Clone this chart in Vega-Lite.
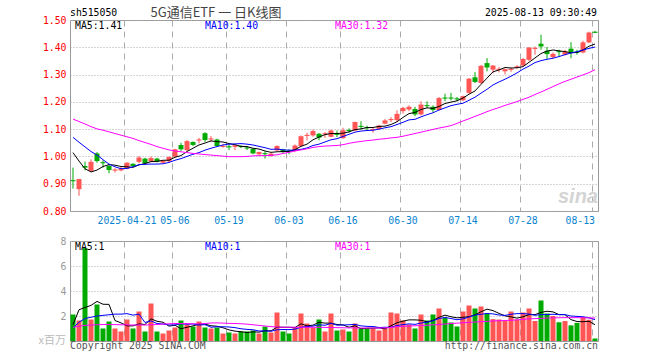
{
"$schema": "https://vega.github.io/schema/vega-lite/v6.json",
"background": "white",
"padding": {"left": 38, "top": 6, "right": 5, "bottom": 5},
"bounds": "flush",
"spacing": 30,
"config": {
  "view": {"stroke": "#999", "strokeWidth": 1},
  "axis": {"domain": false, "ticks": false, "title": null, "labelFont": "DejaVu Sans Mono", "labelFontSize": 9.8, "gridColor": "#aaa", "gridWidth": 1, "labelOverlap": false},
  "text": {"font": "DejaVu Sans Mono", "fontSize": 9.8}
},
"datasets": {"k": [
{"d":"2025-04-08","o":0.913,"h":0.959,"l":0.882,"c":0.909,"v":2.12,"m5":1.014,"m10":1.070,"m30":1.137,"v5":1.3,"v10":1.05,"v30":1.10},
{"d":"2025-04-09","o":0.880,"h":0.918,"l":0.856,"c":0.917,"v":1.64,"m5":0.983,"m10":1.052,"m30":1.128,"v5":2.5,"v10":1.5,"v30":1.18},
{"d":"2025-04-10","o":0.965,"h":0.981,"l":0.949,"c":0.959,"v":7.43,"m5":0.955,"m10":1.035,"m30":1.119,"v5":2.68,"v10":1.8,"v30":1.25},
{"d":"2025-04-11","o":0.947,"h":0.989,"l":0.944,"c":0.980,"v":1.72,"m5":0.943,"m10":1.018,"m30":1.109,"v5":2.85,"v10":1.9,"v30":1.28},
{"d":"2025-04-14","o":1.011,"h":1.016,"l":0.977,"c":0.983,"v":2.92,"m5":0.950,"m10":1.005,"m30":1.101,"v5":3.17,"v10":2.0,"v30":1.30},
{"d":"2025-04-15","o":0.979,"h":0.986,"l":0.959,"c":0.975,"v":1.0,"m5":0.963,"m10":0.988,"m30":1.096,"v5":2.94,"v10":2.05,"v30":1.32},
{"d":"2025-04-16","o":0.965,"h":0.971,"l":0.938,"c":0.950,"v":1.56,"m5":0.970,"m10":0.972,"m30":1.090,"v5":2.93,"v10":2.1,"v30":1.32},
{"d":"2025-04-17","o":0.948,"h":0.957,"l":0.941,"c":0.952,"v":1.0,"m5":0.968,"m10":0.962,"m30":1.084,"v5":1.64,"v10":2.15,"v30":1.31},
{"d":"2025-04-18","o":0.949,"h":0.962,"l":0.945,"c":0.956,"v":0.76,"m5":0.963,"m10":0.955,"m30":1.078,"v5":1.45,"v10":2.15,"v30":1.30},
{"d":"2025-04-21","o":0.955,"h":0.978,"l":0.953,"c":0.977,"v":1.72,"m5":0.962,"m10":0.956,"m30":1.072,"v5":1.21,"v10":2.19,"v30":1.29},
{"d":"2025-04-22","o":0.973,"h":0.975,"l":0.962,"c":0.965,"v":1.0,"m5":0.960,"m10":0.962,"m30":1.066,"v5":1.21,"v10":2.07,"v30":1.28},
{"d":"2025-04-23","o":0.980,"h":1.001,"l":0.975,"c":0.996,"v":2.36,"m5":0.969,"m10":0.970,"m30":1.058,"v5":1.37,"v10":2.15,"v30":1.28},
{"d":"2025-04-24","o":0.992,"h":0.995,"l":0.972,"c":0.975,"v":0.76,"m5":0.974,"m10":0.971,"m30":1.051,"v5":1.32,"v10":1.48,"v30":1.28},
{"d":"2025-04-25","o":0.982,"h":1.000,"l":0.980,"c":0.994,"v":3.0,"m5":0.981,"m10":0.972,"m30":1.044,"v5":1.77,"v10":1.61,"v30":1.30},
{"d":"2025-04-28","o":0.992,"h":0.995,"l":0.978,"c":0.980,"v":0.76,"m5":0.982,"m10":0.972,"m30":1.036,"v5":1.58,"v10":1.40,"v30":1.32},
{"d":"2025-04-29","o":0.977,"h":0.987,"l":0.975,"c":0.985,"v":0.6,"m5":0.986,"m10":0.973,"m30":1.030,"v5":1.50,"v10":1.36,"v30":1.35},
{"d":"2025-04-30","o":0.982,"h":1.000,"l":0.978,"c":0.998,"v":0.84,"m5":0.986,"m10":0.978,"m30":1.024,"v5":1.19,"v10":1.28,"v30":1.38},
{"d":"2025-05-06","o":0.999,"h":1.028,"l":0.997,"c":1.026,"v":1.08,"m5":0.997,"m10":0.986,"m30":1.020,"v5":1.26,"v10":1.29,"v30":1.40},
{"d":"2025-05-07","o":1.042,"h":1.050,"l":1.020,"c":1.026,"v":1.64,"m5":1.003,"m10":0.992,"m30":1.017,"v5":0.98,"v10":1.38,"v30":1.40},
{"d":"2025-05-08","o":1.023,"h":1.060,"l":1.020,"c":1.056,"v":1.32,"m5":1.018,"m10":1.000,"m30":1.014,"v5":1.10,"v10":1.34,"v30":1.39},
{"d":"2025-05-09","o":1.053,"h":1.055,"l":1.038,"c":1.042,"v":1.16,"m5":1.030,"m10":1.008,"m30":1.011,"v5":1.21,"v10":1.36,"v30":1.38},
{"d":"2025-05-12","o":1.058,"h":1.068,"l":1.048,"c":1.062,"v":1.56,"m5":1.042,"m10":1.014,"m30":1.009,"v5":1.35,"v10":1.27,"v30":1.37},
{"d":"2025-05-13","o":1.085,"h":1.089,"l":1.053,"c":1.060,"v":1.08,"m5":1.049,"m10":1.023,"m30":1.007,"v5":1.35,"v10":1.31,"v30":1.40},
{"d":"2025-05-14","o":1.062,"h":1.075,"l":1.053,"c":1.066,"v":1.0,"m5":1.057,"m10":1.030,"m30":1.005,"v5":1.22,"v10":1.10,"v30":1.44},
{"d":"2025-05-15","o":1.062,"h":1.065,"l":1.035,"c":1.038,"v":1.08,"m5":1.054,"m10":1.036,"m30":1.003,"v5":1.18,"v10":1.14,"v30":1.45},
{"d":"2025-05-16","o":1.035,"h":1.046,"l":1.032,"c":1.039,"v":0.6,"m5":1.053,"m10":1.042,"m30":1.001,"v5":1.06,"v10":1.14,"v30":1.43},
{"d":"2025-05-19","o":1.037,"h":1.044,"l":1.023,"c":1.033,"v":0.68,"m5":1.047,"m10":1.045,"m30":0.999,"v5":0.89,"v10":1.12,"v30":1.41},
{"d":"2025-05-20","o":1.035,"h":1.043,"l":1.023,"c":1.041,"v":0.6,"m5":1.043,"m10":1.046,"m30":0.999,"v5":0.79,"v10":1.07,"v30":1.40},
{"d":"2025-05-21","o":1.038,"h":1.041,"l":1.030,"c":1.034,"v":0.76,"m5":1.037,"m10":1.047,"m30":0.999,"v5":0.74,"v10":0.98,"v30":1.38},
{"d":"2025-05-22","o":1.033,"h":1.038,"l":1.023,"c":1.029,"v":0.76,"m5":1.036,"m10":1.045,"m30":1.000,"v5":0.68,"v10":0.93,"v30":1.35},
{"d":"2025-05-23","o":1.028,"h":1.030,"l":1.008,"c":1.011,"v":0.84,"m5":1.030,"m10":1.042,"m30":1.002,"v5":0.73,"v10":0.90,"v30":1.30},
{"d":"2025-05-26","o":1.008,"h":1.018,"l":1.005,"c":1.016,"v":0.6,"m5":1.027,"m10":1.037,"m30":1.003,"v5":0.71,"v10":0.80,"v30":1.25},
{"d":"2025-05-27","o":1.012,"h":1.019,"l":0.992,"c":1.008,"v":1.16,"m5":1.020,"m10":1.032,"m30":1.003,"v5":0.82,"v10":0.81,"v30":1.20},
{"d":"2025-05-28","o":1.002,"h":1.013,"l":0.999,"c":1.010,"v":0.68,"m5":1.015,"m10":1.026,"m30":1.004,"v5":0.81,"v10":0.78,"v30":1.15},
{"d":"2025-05-29","o":1.022,"h":1.041,"l":1.020,"c":1.038,"v":2.28,"m5":1.017,"m10":1.027,"m30":1.006,"v5":1.11,"v10":0.90,"v30":1.12},
{"d":"2025-05-30","o":1.026,"h":1.028,"l":1.012,"c":1.016,"v":0.76,"m5":1.018,"m10":1.024,"m30":1.011,"v5":1.10,"v10":0.92,"v30":1.10},
{"d":"2025-06-03","o":1.022,"h":1.026,"l":1.008,"c":1.018,"v":0.6,"m5":1.018,"m10":1.023,"m30":1.015,"v5":1.10,"v10":0.91,"v30":1.10},
{"d":"2025-06-04","o":1.020,"h":1.044,"l":1.018,"c":1.040,"v":1.08,"m5":1.025,"m10":1.023,"m30":1.020,"v5":1.08,"v10":0.95,"v30":1.10},
{"d":"2025-06-05","o":1.038,"h":1.077,"l":1.035,"c":1.074,"v":2.2,"m5":1.037,"m10":1.026,"m30":1.024,"v5":1.38,"v10":1.10,"v30":1.10},
{"d":"2025-06-06","o":1.075,"h":1.087,"l":1.059,"c":1.079,"v":1.4,"m5":1.045,"m10":1.031,"m30":1.028,"v5":1.21,"v10":1.16,"v30":1.10},
{"d":"2025-06-09","o":1.077,"h":1.099,"l":1.072,"c":1.093,"v":1.08,"m5":1.061,"m10":1.040,"m30":1.033,"v5":1.27,"v10":1.19,"v30":1.10},
{"d":"2025-06-10","o":1.083,"h":1.086,"l":1.059,"c":1.069,"v":1.72,"m5":1.071,"m10":1.045,"m30":1.036,"v5":1.50,"v10":1.30,"v30":1.10},
{"d":"2025-06-11","o":1.081,"h":1.089,"l":1.068,"c":1.085,"v":0.76,"m5":1.080,"m10":1.053,"m30":1.038,"v5":1.43,"v10":1.26,"v30":1.09},
{"d":"2025-06-12","o":1.072,"h":1.098,"l":1.070,"c":1.095,"v":2.2,"m5":1.084,"m10":1.061,"m30":1.039,"v5":1.43,"v10":1.41,"v30":1.08},
{"d":"2025-06-13","o":1.083,"h":1.095,"l":1.071,"c":1.079,"v":0.84,"m5":1.084,"m10":1.065,"m30":1.040,"v5":1.32,"v10":1.27,"v30":1.07},
{"d":"2025-06-16","o":1.067,"h":1.105,"l":1.065,"c":1.096,"v":0.92,"m5":1.085,"m10":1.073,"m30":1.043,"v5":1.29,"v10":1.28,"v30":1.06},
{"d":"2025-06-17","o":1.097,"h":1.103,"l":1.087,"c":1.093,"v":0.76,"m5":1.090,"m10":1.081,"m30":1.048,"v5":1.10,"v10":1.30,"v30":1.05},
{"d":"2025-06-18","o":1.095,"h":1.128,"l":1.093,"c":1.126,"v":1.4,"m5":1.098,"m10":1.089,"m30":1.052,"v5":1.22,"v10":1.33,"v30":1.05},
{"d":"2025-06-19","o":1.112,"h":1.129,"l":1.099,"c":1.108,"v":1.0,"m5":1.101,"m10":1.093,"m30":1.055,"v5":0.98,"v10":1.21,"v30":1.04},
{"d":"2025-06-20","o":1.107,"h":1.113,"l":1.093,"c":1.103,"v":1.0,"m5":1.106,"m10":1.095,"m30":1.058,"v5":1.02,"v10":1.17,"v30":1.04},
{"d":"2025-06-23","o":1.096,"h":1.105,"l":1.087,"c":1.100,"v":1.0,"m5":1.106,"m10":1.096,"m30":1.060,"v5":1.03,"v10":1.16,"v30":1.04},
{"d":"2025-06-24","o":1.101,"h":1.116,"l":1.098,"c":1.113,"v":0.84,"m5":1.110,"m10":1.100,"m30":1.063,"v5":1.05,"v10":1.08,"v30":1.04},
{"d":"2025-06-25","o":1.120,"h":1.137,"l":1.118,"c":1.132,"v":1.0,"m5":1.111,"m10":1.105,"m30":1.065,"v5":0.97,"v10":1.10,"v30":1.05},
{"d":"2025-06-26","o":1.133,"h":1.144,"l":1.126,"c":1.137,"v":2.28,"m5":1.117,"m10":1.109,"m30":1.068,"v5":1.22,"v10":1.10,"v30":1.08},
{"d":"2025-06-27","o":1.133,"h":1.169,"l":1.127,"c":1.156,"v":2.2,"m5":1.127,"m10":1.117,"m30":1.070,"v5":1.46,"v10":1.24,"v30":1.15},
{"d":"2025-06-30","o":1.166,"h":1.182,"l":1.157,"c":1.178,"v":1.64,"m5":1.143,"m10":1.125,"m30":1.074,"v5":1.59,"v10":1.31,"v30":1.18},
{"d":"2025-07-01","o":1.172,"h":1.187,"l":1.166,"c":1.182,"v":1.32,"m5":1.157,"m10":1.134,"m30":1.079,"v5":1.69,"v10":1.37,"v30":1.20},
{"d":"2025-07-02","o":1.174,"h":1.182,"l":1.148,"c":1.154,"v":1.0,"m5":1.161,"m10":1.136,"m30":1.084,"v5":1.69,"v10":1.33,"v30":1.22},
{"d":"2025-07-03","o":1.154,"h":1.202,"l":1.150,"c":1.190,"v":2.12,"m5":1.172,"m10":1.145,"m30":1.089,"v5":1.66,"v10":1.44,"v30":1.24},
{"d":"2025-07-04","o":1.188,"h":1.202,"l":1.178,"c":1.184,"v":1.64,"m5":1.178,"m10":1.153,"m30":1.094,"v5":1.54,"v10":1.50,"v30":1.26},
{"d":"2025-07-07","o":1.182,"h":1.187,"l":1.162,"c":1.170,"v":2.12,"m5":1.176,"m10":1.160,"m30":1.099,"v5":1.64,"v10":1.62,"v30":1.29},
{"d":"2025-07-08","o":1.170,"h":1.218,"l":1.168,"c":1.214,"v":2.6,"m5":1.183,"m10":1.170,"m30":1.104,"v5":1.90,"v10":1.80,"v30":1.32},
{"d":"2025-07-09","o":1.216,"h":1.230,"l":1.202,"c":1.212,"v":1.88,"m5":1.194,"m10":1.178,"m30":1.108,"v5":2.07,"v10":1.88,"v30":1.36},
{"d":"2025-07-10","o":1.216,"h":1.233,"l":1.205,"c":1.212,"v":1.48,"m5":1.199,"m10":1.186,"m30":1.113,"v5":1.94,"v10":1.80,"v30":1.40},
{"d":"2025-07-11","o":1.213,"h":1.218,"l":1.202,"c":1.209,"v":1.16,"m5":1.204,"m10":1.191,"m30":1.121,"v5":1.85,"v10":1.70,"v30":1.43},
{"d":"2025-07-14","o":1.206,"h":1.223,"l":1.203,"c":1.221,"v":2.36,"m5":1.214,"m10":1.195,"m30":1.130,"v5":1.90,"v10":1.77,"v30":1.46},
{"d":"2025-07-15","o":1.233,"h":1.287,"l":1.230,"c":1.285,"v":2.84,"m5":1.228,"m10":1.206,"m30":1.138,"v5":1.94,"v10":1.92,"v30":1.49},
{"d":"2025-07-16","o":1.290,"h":1.309,"l":1.269,"c":1.273,"v":2.6,"m5":1.240,"m10":1.217,"m30":1.147,"v5":2.09,"v10":2.08,"v30":1.52},
{"d":"2025-07-17","o":1.269,"h":1.335,"l":1.266,"c":1.332,"v":2.76,"m5":1.264,"m10":1.232,"m30":1.155,"v5":2.34,"v10":2.14,"v30":1.55},
{"d":"2025-07-18","o":1.342,"h":1.360,"l":1.312,"c":1.326,"v":2.2,"m5":1.287,"m10":1.246,"m30":1.164,"v5":2.55,"v10":2.20,"v30":1.57},
{"d":"2025-07-21","o":1.318,"h":1.335,"l":1.305,"c":1.333,"v":1.75,"m5":1.310,"m10":1.262,"m30":1.172,"v5":2.43,"v10":2.17,"v30":1.60},
{"d":"2025-07-22","o":1.317,"h":1.328,"l":1.308,"c":1.321,"v":1.72,"m5":1.317,"m10":1.273,"m30":1.179,"v5":2.21,"v10":2.08,"v30":1.62},
{"d":"2025-07-23","o":1.312,"h":1.322,"l":1.300,"c":1.320,"v":1.6,"m5":1.326,"m10":1.283,"m30":1.187,"v5":2.01,"v10":2.05,"v30":1.64},
{"d":"2025-07-24","o":1.317,"h":1.326,"l":1.310,"c":1.321,"v":2.36,"m5":1.324,"m10":1.294,"m30":1.194,"v5":1.93,"v10":2.14,"v30":1.66},
{"d":"2025-07-25","o":1.325,"h":1.335,"l":1.322,"c":1.330,"v":1.72,"m5":1.325,"m10":1.306,"m30":1.201,"v5":1.83,"v10":2.19,"v30":1.69},
{"d":"2025-07-28","o":1.333,"h":1.361,"l":1.330,"c":1.357,"v":2.28,"m5":1.329,"m10":1.320,"m30":1.209,"v5":1.94,"v10":2.19,"v30":1.73},
{"d":"2025-07-29","o":1.354,"h":1.401,"l":1.350,"c":1.399,"v":2.6,"m5":1.345,"m10":1.331,"m30":1.217,"v5":2.11,"v10":2.16,"v30":1.77},
{"d":"2025-07-30","o":1.394,"h":1.403,"l":1.373,"c":1.398,"v":1.6,"m5":1.361,"m10":1.344,"m30":1.227,"v5":2.11,"v10":2.06,"v30":1.79},
{"d":"2025-07-31","o":1.413,"h":1.446,"l":1.391,"c":1.403,"v":3.24,"m5":1.377,"m10":1.351,"m30":1.236,"v5":2.29,"v10":2.11,"v30":1.81},
{"d":"2025-08-01","o":1.387,"h":1.401,"l":1.357,"c":1.375,"v":2.2,"m5":1.386,"m10":1.356,"m30":1.246,"v5":2.38,"v10":2.11,"v30":1.83},
{"d":"2025-08-04","o":1.364,"h":1.381,"l":1.357,"c":1.376,"v":2.0,"m5":1.390,"m10":1.360,"m30":1.256,"v5":2.33,"v10":2.14,"v30":1.85},
{"d":"2025-08-05","o":1.386,"h":1.391,"l":1.364,"c":1.382,"v":1.5,"m5":1.387,"m10":1.366,"m30":1.266,"v5":2.11,"v10":2.11,"v30":1.86},
{"d":"2025-08-06","o":1.373,"h":1.391,"l":1.370,"c":1.385,"v":1.6,"m5":1.384,"m10":1.373,"m30":1.275,"v5":2.11,"v10":2.11,"v30":1.87},
{"d":"2025-08-07","o":1.395,"h":1.419,"l":1.360,"c":1.382,"v":1.25,"m5":1.380,"m10":1.379,"m30":1.283,"v5":1.71,"v10":2.00,"v30":1.87},
{"d":"2025-08-08","o":1.384,"h":1.391,"l":1.373,"c":1.380,"v":1.45,"m5":1.381,"m10":1.384,"m30":1.291,"v5":1.56,"v10":1.97,"v30":1.87},
{"d":"2025-08-11","o":1.381,"h":1.424,"l":1.378,"c":1.418,"v":1.9,"m5":1.390,"m10":1.390,"m30":1.299,"v5":1.54,"v10":1.94,"v30":1.86},
{"d":"2025-08-12","o":1.418,"h":1.457,"l":1.415,"c":1.454,"v":1.7,"m5":1.404,"m10":1.396,"m30":1.307,"v5":1.58,"v10":1.85,"v30":1.85},
{"d":"2025-08-13","o":1.457,"h":1.460,"l":1.452,"c":1.453,"v":0.2,"m5":1.412,"m10":1.401,"m30":1.318,"v5":1.30,"v10":1.71,"v30":1.84}
]},
"vconcat": [
{
  "width": 528, "height": 191,
  "data": {"name": "k"},
  "resolve": {"axis": {"y": "independent"}},
  "encoding": {
    "x": {"field": "d", "type": "ordinal", "scale": {"paddingInner": 0, "paddingOuter": 0},
      "axis": {"values": ["2025-04-21","2025-05-06","2025-05-19","2025-06-03","2025-06-16","2025-06-30","2025-07-14","2025-07-28","2025-08-13"],
        "labelExpr": "datum.value == '2025-04-21' ? datum.value : slice(datum.value, 5)",
        "labelColor": "#0A84D0", "labelAngle": 0, "bandPosition": 0, "grid": true, "gridDash": [6, 5],
        "labelFlush": 10, "labelPadding": 4, "labelOverlap": false}}
  },
  "layer": [
    {"mark": {"type": "rule", "strokeWidth": 1},
     "encoding": {
       "y": {"field": "l", "type": "quantitative", "scale": {"domain": [0.8, 1.5], "zero": false, "nice": false},
         "axis": {"orient": "left", "values": [0.8, 0.9, 1.0, 1.1, 1.2, 1.3, 1.4, 1.5], "format": ".2f", "labelColor": "#FF0000", "grid": true, "gridDash": [1, 2], "labelPadding": 4, "labelOverlap": false}},
       "y2": {"field": "h"},
       "color": {"condition": {"test": "datum.c >= datum.o", "value": "#FF5555"}, "value": "#00AA00"}}},
    {"mark": {"type": "bar", "width": 5},
     "encoding": {
       "y": {"field": "o", "type": "quantitative", "axis": null},
       "y2": {"field": "c"},
       "color": {"condition": {"test": "datum.c >= datum.o", "value": "#FF5555"}, "value": "#00AA00"}}},
    {"mark": {"type": "line", "color": "#000000", "strokeWidth": 1}, "encoding": {"y": {"field": "m5", "type": "quantitative", "axis": null}}},
    {"mark": {"type": "line", "color": "#0000FF", "strokeWidth": 1}, "encoding": {"y": {"field": "m10", "type": "quantitative", "axis": null}}},
    {"mark": {"type": "line", "color": "#FF00FF", "strokeWidth": 1}, "encoding": {"y": {"field": "m30", "type": "quantitative", "axis": null}}},
    {"data": {"values": [{}]}, "mark": {"type": "text", "text": "MA5:1.41", "align": "left", "baseline": "middle", "dx": 2, "dy": 6, "color": "#000000"},
     "encoding": {"x": {"datum": "2025-04-08", "type": "ordinal"}, "y": {"datum": 1.5, "type": "quantitative", "axis": null}}},
    {"data": {"values": [{}]}, "mark": {"type": "text", "text": "MA10:1.40", "align": "left", "baseline": "middle", "dx": 0, "dy": 6, "color": "#0000FF"},
     "encoding": {"x": {"datum": "2025-05-13", "type": "ordinal"}, "y": {"datum": 1.5, "type": "quantitative", "axis": null}}},
    {"data": {"values": [{}]}, "mark": {"type": "text", "text": "MA30:1.32", "align": "left", "baseline": "middle", "dx": -2, "dy": 6, "color": "#FF00FF"},
     "encoding": {"x": {"datum": "2025-06-13", "type": "ordinal"}, "y": {"datum": 1.5, "type": "quantitative", "axis": null}}},
    {"data": {"values": [{}]}, "mark": {"type": "text", "text": "sh515050", "align": "left", "baseline": "middle", "dx": -3, "dy": -7, "color": "#000000"},
     "encoding": {"x": {"datum": "2025-04-08", "type": "ordinal"}, "y": {"datum": 1.5, "type": "quantitative", "axis": null}}},
    {"data": {"values": [{}]}, "mark": {"type": "text", "text": "5G通信ETF 一 日K线图", "font": "Noto Sans CJK SC", "fontSize": 13, "align": "center", "baseline": "middle", "dx": -1, "dy": -7.5, "color": "#444444"},
     "encoding": {"x": {"datum": "2025-05-15", "type": "ordinal"}, "y": {"datum": 1.5, "type": "quantitative", "axis": null}}},
    {"data": {"values": [{}]}, "mark": {"type": "text", "text": "2025-08-13 09:30:49", "align": "right", "baseline": "middle", "dx": 2, "dy": -7, "color": "#000000"},
     "encoding": {"x": {"datum": "2025-08-13", "type": "ordinal"}, "y": {"datum": 1.5, "type": "quantitative", "axis": null}}},
    {"data": {"values": [{}]}, "mark": {"type": "text", "text": "sina", "font": "Liberation Sans", "fontSize": 20, "fontStyle": "italic", "fontWeight": "bold", "align": "right", "baseline": "alphabetic", "dx": 3, "dy": -8, "color": "#d4d4d4"},
     "encoding": {"x": {"datum": "2025-08-13", "type": "ordinal"}, "y": {"datum": 0.8, "type": "quantitative", "axis": null}}}
  ]
},
{
  "width": 528, "height": 100,
  "data": {"name": "k"},
  "resolve": {"axis": {"y": "independent"}},
  "encoding": {
    "x": {"field": "d", "type": "ordinal", "scale": {"paddingInner": 0, "paddingOuter": 0},
      "axis": {"values": ["2025-04-21","2025-05-06","2025-05-19","2025-06-03","2025-06-16","2025-06-30","2025-07-14","2025-07-28","2025-08-13"],
        "labels": false, "bandPosition": 0, "grid": true, "gridDash": [6, 5]}}
  },
  "layer": [
    {"mark": {"type": "bar", "width": 5},
     "encoding": {
       "y": {"field": "v", "type": "quantitative", "scale": {"domain": [0, 8], "nice": false},
         "axis": {"orient": "left", "values": [2, 4, 6, 8], "format": "d", "labelColor": "#999999", "grid": true, "gridDash": [1, 2], "labelPadding": 4, "labelOverlap": false}},
       "color": {"condition": {"test": "datum.c >= datum.o", "value": "#FF5555"}, "value": "#00AA00"}}},
    {"mark": {"type": "line", "color": "#000000", "strokeWidth": 1}, "encoding": {"y": {"field": "v5", "type": "quantitative", "axis": null}}},
    {"mark": {"type": "line", "color": "#0000FF", "strokeWidth": 1}, "encoding": {"y": {"field": "v10", "type": "quantitative", "axis": null}}},
    {"mark": {"type": "line", "color": "#FF00FF", "strokeWidth": 1}, "encoding": {"y": {"field": "v30", "type": "quantitative", "axis": null}}},
    {"data": {"values": [{}]}, "mark": {"type": "text", "text": "MA5:1", "align": "left", "baseline": "middle", "dx": 2, "dy": 6, "color": "#000000"},
     "encoding": {"x": {"datum": "2025-04-08", "type": "ordinal"}, "y": {"datum": 8, "type": "quantitative", "axis": null}}},
    {"data": {"values": [{}]}, "mark": {"type": "text", "text": "MA10:1", "align": "left", "baseline": "middle", "dx": 0, "dy": 6, "color": "#0000FF"},
     "encoding": {"x": {"datum": "2025-05-13", "type": "ordinal"}, "y": {"datum": 8, "type": "quantitative", "axis": null}}},
    {"data": {"values": [{}]}, "mark": {"type": "text", "text": "MA30:1", "align": "left", "baseline": "middle", "dx": -2, "dy": 6, "color": "#FF00FF"},
     "encoding": {"x": {"datum": "2025-06-13", "type": "ordinal"}, "y": {"datum": 8, "type": "quantitative", "axis": null}}},
    {"data": {"values": [{}]}, "mark": {"type": "text", "text": "Copyright 2025 SINA.COM", "align": "left", "baseline": "middle", "dx": -3, "dy": 5, "color": "#555555"},
     "encoding": {"x": {"datum": "2025-04-08", "type": "ordinal"}, "y": {"datum": 0, "type": "quantitative", "axis": null}}},
    {"data": {"values": [{}]}, "mark": {"type": "text", "text": "http://finance.sina.com.cn", "align": "right", "baseline": "middle", "dx": 3, "dy": 5, "color": "#555555"},
     "encoding": {"x": {"datum": "2025-08-13", "type": "ordinal"}, "y": {"datum": 0, "type": "quantitative", "axis": null}}},
    {"data": {"values": [{}]}, "mark": {"type": "text", "text": "x百万", "font": "Noto Sans CJK SC", "fontSize": 11, "align": "right", "baseline": "middle", "dx": -7, "dy": 0, "color": "#bbbbbb"},
     "encoding": {"x": {"datum": "2025-04-08", "type": "ordinal"}, "y": {"datum": 0, "type": "quantitative", "axis": null}}}
  ]
}
]
}
